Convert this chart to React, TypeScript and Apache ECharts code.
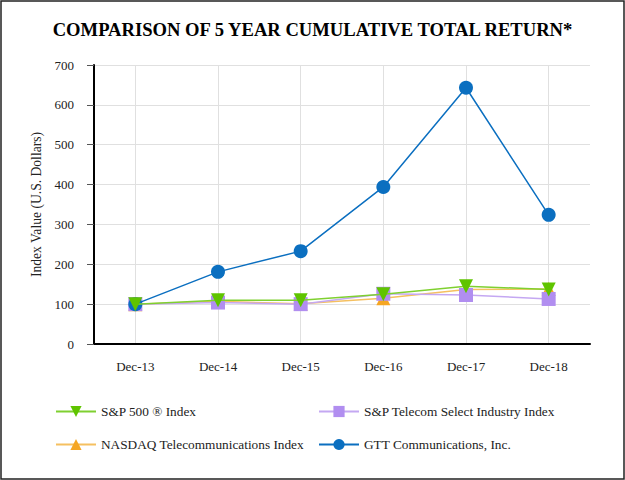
import React, { useEffect, useRef } from "react";
import * as echarts from "echarts";

const categories = ["Dec-13", "Dec-14", "Dec-15", "Dec-16", "Dec-17", "Dec-18"];
const sp500 = [100, 110, 110, 125, 145, 137];
const spTelecom = [100, 104, 100, 126, 123, 113];
const nasdaqTelecom = [100, 107, 101, 115, 137, 138];
const gtt = [100, 181, 233, 394, 643, 324];
const yTicks = [0, 100, 200, 300, 400, 500, 600, 700];

const FONT = "'Liberation Serif', 'Times New Roman', serif";

const names = {
  sp500: "S&P 500 \u00ae Index",
  spTelecom: "S&P Telecom Select Industry Index",
  nasdaq: "NASDAQ Telecommunications Index",
  gtt: "GTT Communications, Inc.",
};

export default function App() {
  const ref = useRef<HTMLDivElement>(null);
  useEffect(() => {
    if (!ref.current) return;
    const chart = echarts.init(ref.current, undefined, { renderer: "svg" });
    const legendCommon = {
      itemWidth: 40,
      itemHeight: 14,
      itemGap: 10,
      textStyle: {
        fontFamily: FONT,
        fontSize: 13.3,
        color: "#222",
      },
    };
    chart.setOption({
      animation: false,
      backgroundColor: "#fff",
      title: {
        text: "COMPARISON OF 5 YEAR CUMULATIVE TOTAL RETURN*",
        left: "center",
        top: 15,
        textStyle: { fontFamily: FONT, fontSize: 18.6, fontWeight: "bold", color: "#000" },
      },
      graphic: [
        {
          type: "rect",
          shape: { x: 1, y: 1, width: 623, height: 478 },
          style: { fill: "none", stroke: "#222", lineWidth: 1.5 },
          silent: true,
        },
      ],
      legend: [
        { ...legendCommon, left: 50, top: 400, data: [names.sp500] },
        { ...legendCommon, left: 313, top: 400, data: [names.spTelecom] },
        { ...legendCommon, left: 50, top: 433, data: [names.nasdaq] },
        { ...legendCommon, left: 313, top: 433, data: [names.gtt] },
      ],
      grid: { left: 94, right: 35, top: 65, bottom: 136 },
      xAxis: {
        type: "category",
        data: categories,
        boundaryGap: true,
        axisLine: { lineStyle: { color: "#000", width: 2 } },
        axisTick: { alignWithLabel: true, length: 6, lineStyle: { color: "#555" } },
        axisLabel: { fontFamily: FONT, fontSize: 13, color: "#222", margin: 16 },
        splitLine: { show: true, alignWithLabel: true, lineStyle: { color: "#e0e0e0" } },
      },
      yAxis: {
        type: "value",
        min: 0,
        max: 700,
        interval: 100,
        name: "Index Value (U.S. Dollars)",
        nameLocation: "middle",
        nameRotate: 90,
        nameGap: 50,
        nameTextStyle: { fontFamily: FONT, fontSize: 13.6, color: "#222" },
        axisLine: { show: true, lineStyle: { color: "#000", width: 2 } },
        axisTick: { show: true, length: 7, lineStyle: { color: "#555" } },
        axisLabel: {
          fontFamily: FONT,
          fontSize: 13,
          color: "#222",
          margin: 20,
          formatter: (v: number) => (yTicks.includes(v) ? String(v) : ""),
        },
        splitLine: { show: true, lineStyle: { color: "#e0e0e0" } },
      },
      series: [
        {
          name: names.nasdaq,
          type: "line",
          data: nasdaqTelecom,
          symbol: "triangle",
          symbolSize: 14,
          color: "#f5a623",
          lineStyle: { width: 1.5, color: "#f5c060" },
          z: 2,
        },
        {
          name: names.spTelecom,
          type: "line",
          data: spTelecom,
          symbol: "rect",
          symbolSize: 14,
          color: "#b18ef0",
          lineStyle: { width: 1.5, color: "#c4a8f2" },
          z: 3,
        },
        {
          name: names.gtt,
          type: "line",
          data: gtt,
          symbol: "circle",
          symbolSize: 14,
          color: "#0b6fc0",
          lineStyle: { width: 1.5, color: "#0b6fc0" },
          z: 4,
        },
        {
          name: names.sp500,
          type: "line",
          data: sp500,
          symbol: "triangle",
          symbolRotate: 180,
          symbolSize: 14,
          color: "#5fc400",
          lineStyle: { width: 1.5, color: "#7fd030" },
          z: 5,
        },
      ],
    });
    return () => chart.dispose();
  }, []);
  return (
    <div
      ref={ref}
      style={{ position: "fixed", left: 0, top: 0, width: 625, height: 480 }}
    />
  );
}
